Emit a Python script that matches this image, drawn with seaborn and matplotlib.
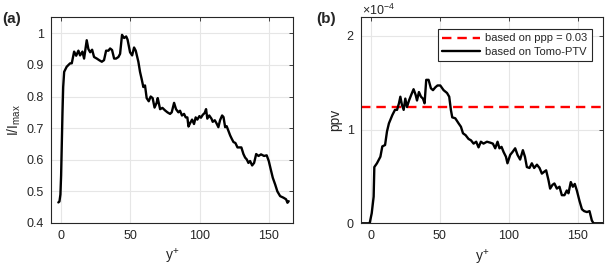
import matplotlib
matplotlib.use('Agg')
import matplotlib.pyplot as plt
import seaborn as sns
import pandas as pd

# panel (a): normalised intensity vs y+
a_yplus = [-2, -1.2, -0.5, 0, 0.5, 1, 1.5, 2.2, 4, 6.5, 7.7, 9.4, 10.9, 12.5, 13.7, 15.4,
           16.6, 18.5, 19.7, 21, 22.4, 23.8, 25.8, 27.5, 29.4, 31, 32.5, 34.2, 35.4, 36.8,
           38.3, 39.7, 41.4, 42.6, 44, 45.5, 47, 48, 49.8, 51.3, 52.7, 53.9, 55.8, 57,
           58.2, 59.4, 60.6, 61.8, 63.3, 64.7, 66.1, 67.5, 69, 69.8, 71.5, 73.2, 75.1,
           76.8, 78.7, 79.9, 81.6, 83, 84.7, 85.9, 87.3, 88.8, 90, 91.2, 92, 93.2, 94.6,
           96, 97.2, 98.4, 99.9, 101, 102.3, 103.7, 104.7, 105.6, 107, 108.6, 109.5, 111,
           112.4, 113.6, 114.8, 116.3, 117.3, 118.5, 119.6, 120.8, 122.1, 123.3, 124.5,
           125.9, 127.4, 128.8, 130.2, 131.7, 132.9, 134.1, 135.3, 136.5, 138, 139.4,
           140.9, 142.6, 144.4, 146.6, 148.5, 150, 151.4, 152.9, 154.6, 156.2, 158.2,
           160.6, 162.5, 163.5, 164.4]
a_int = [0.465, 0.468, 0.49, 0.55, 0.65, 0.75, 0.83, 0.878, 0.894, 0.905, 0.905, 0.942,
         0.929, 0.945, 0.93, 0.942, 0.92, 0.978, 0.95, 0.94, 0.948, 0.925, 0.92, 0.915,
         0.91, 0.915, 0.945, 0.945, 0.952, 0.947, 0.92, 0.92, 0.925, 0.935, 0.995, 0.985,
         0.99, 0.98, 0.94, 0.93, 0.955, 0.945, 0.91, 0.878, 0.855, 0.83, 0.835, 0.795,
         0.785, 0.8, 0.795, 0.765, 0.78, 0.795, 0.76, 0.764, 0.756, 0.75, 0.745, 0.75,
         0.78, 0.76, 0.75, 0.755, 0.74, 0.745, 0.734, 0.734, 0.705, 0.716, 0.727, 0.713,
         0.734, 0.727, 0.738, 0.733, 0.742, 0.748, 0.76, 0.73, 0.74, 0.73, 0.72, 0.725,
         0.714, 0.703, 0.725, 0.74, 0.735, 0.703, 0.706, 0.692, 0.677, 0.666, 0.656,
         0.653, 0.639, 0.639, 0.639, 0.618, 0.607, 0.601, 0.59, 0.596, 0.582, 0.59,
         0.618, 0.612, 0.617, 0.612, 0.614, 0.596, 0.57, 0.543, 0.522, 0.5, 0.485, 0.48,
         0.475, 0.464, 0.469]

# panel (b): ppv (x1e-4) vs y+
b_yplus = [-8, -1, 0.5, 1.9, 2.4, 4.3, 6.8, 8.2, 10.2, 11.6, 13, 15.5, 17.4, 18.9, 20.3,
           21.3, 22.5, 23.7, 24.9, 26.1, 27.6, 29.2, 30.9, 32.4, 33.4, 34.8, 36.3, 37.7,
           38.9, 40.1, 41.8, 43.5, 45, 46.7, 48.3, 50.3, 52.7, 55.2, 56.8, 58, 59, 61.2,
           63.6, 65.3, 66.8, 68.7, 70.8, 72.6, 74.5, 76.4, 78.1, 79.8, 81.7, 84.2, 86.6,
           88.5, 90.2, 91.9, 93.3, 94.8, 96.3, 98, 99.1, 101.1, 103, 104.7, 106.4, 108.3,
           110.3, 111.8, 113.2, 115.1, 116.8, 118.5, 120.5, 122.4, 124.1, 125.8, 127.2,
           128.9, 130.1, 131.8, 133.2, 135, 136.9, 138.6, 140.5, 142.2, 143.4, 145.1,
           146.6, 148, 149.5, 151.4, 153.2, 154.8, 156.8, 158.7, 160.4, 161.6, 172]
b_ppv = [0, 0, 0.107, 0.284, 0.6, 0.64, 0.71, 0.82, 0.835, 0.98, 1.066, 1.155, 1.21, 1.21,
         1.28, 1.35, 1.26, 1.21, 1.33, 1.24, 1.31, 1.37, 1.43, 1.37, 1.31, 1.40, 1.35,
         1.33, 1.28, 1.53, 1.53, 1.44, 1.42, 1.45, 1.47, 1.47, 1.42, 1.39, 1.35, 1.21,
         1.13, 1.12, 1.066, 1.03, 0.96, 0.94, 0.9, 0.885, 0.85, 0.87, 0.81, 0.87, 0.85,
         0.87, 0.86, 0.85, 0.80, 0.87, 0.80, 0.815, 0.76, 0.71, 0.64, 0.73, 0.765, 0.8,
         0.73, 0.68, 0.78, 0.71, 0.6, 0.59, 0.64, 0.59, 0.625, 0.59, 0.53, 0.55, 0.565,
         0.46, 0.37, 0.41, 0.425, 0.37, 0.39, 0.30, 0.30, 0.35, 0.32, 0.44, 0.39, 0.42,
         0.35, 0.24, 0.15, 0.13, 0.12, 0.13, 0.03, 0, 0]
ppv_ppp = 1.245  # x1e-4, estimate from ppp = 0.03

df_a = pd.DataFrame({'yplus': a_yplus, 'val': a_int})
df_b = pd.DataFrame({'yplus': b_yplus, 'val': [v * 1e-4 for v in b_ppv]})

sns.set_theme(style='white')
plt.rcParams['font.family'] = ['Liberation Sans', 'DejaVu Sans']
plt.rcParams['mathtext.fontset'] = 'custom'
plt.rcParams['mathtext.rm'] = 'Liberation Sans'
plt.rcParams['mathtext.it'] = 'Liberation Sans'

fig = plt.figure(figsize=(6.05, 2.66), dpi=100)
ax1 = fig.add_axes([0.0843, 0.1617, 0.4, 0.775])
ax2 = fig.add_axes([0.5962, 0.1605, 0.4005, 0.7755])

spine_col = '#262626'
for ax in (ax1, ax2):
    ax.grid(True, color='#e6e6e6', lw=0.8)
    ax.set_axisbelow(True)
    for s in ax.spines.values():
        s.set_color(spine_col)
        s.set_linewidth(0.8)
    ax.tick_params(direction='in', length=3, width=0.6, top=True, right=True,
                   labelsize=9, colors=spine_col, labelcolor='#262626', pad=5)
    ax.set_xticks([0, 50, 100, 150])

# (a)
sns.lineplot(data=df_a, x='yplus', y='val', ax=ax1, color='black', lw=1.7)
ax1.set_xlim(-7.3, 167.5)
ax1.set_ylim(0.4, 1.052)
ax1.set_yticks([0.4, 0.5, 0.6, 0.7, 0.8, 0.9, 1.0])
ax1.set_yticklabels(['0.4', '0.5', '0.6', '0.7', '0.8', '0.9', '1'])
ax1.set_xlabel(r'y$^{+}$', fontsize=10, labelpad=4)
ax1.set_ylabel(r'I/I$_{\rm max}$', fontsize=10, labelpad=3)
fig.text(0.003, 0.93, '(a)', fontsize=11, fontweight='bold', va='center')

# (b)
ax2.axhline(ppv_ppp * 1e-4, color='#ff0000', lw=1.7, dashes=(4, 2.5),
            label='based on ppp = 0.03')
sns.lineplot(data=df_b, x='yplus', y='val', ax=ax2, color='black', lw=1.7,
             label='based on Tomo-PTV')
ax2.set_xlim(-7.5, 168.5)
ax2.set_ylim(0, 2.2e-4)
ax2.set_yticks([0, 1e-4, 2e-4])
ax2.set_yticklabels(['0', '1', '2'])
ax2.set_xlabel(r'y$^{+}$', fontsize=10, labelpad=4)
ax2.set_ylabel('ppv', fontsize=10, labelpad=3)
fig.text(0.523, 0.927, '(b)', fontsize=11, fontweight='bold', va='center')
fig.text(0.598, 0.962, r'$\times$10$^{-4}$', fontsize=9, va='center', color='#262626')

leg = ax2.legend(loc='upper right', bbox_to_anchor=(0.955, 0.942), borderaxespad=0,
                 fontsize=8, frameon=True, fancybox=False, framealpha=1,
                 edgecolor=spine_col, handlelength=3.4, borderpad=0.4,
                 labelspacing=0.3, handletextpad=0.5)
leg.get_frame().set_linewidth(0.8)

fig.savefig('out.png', dpi=100)
